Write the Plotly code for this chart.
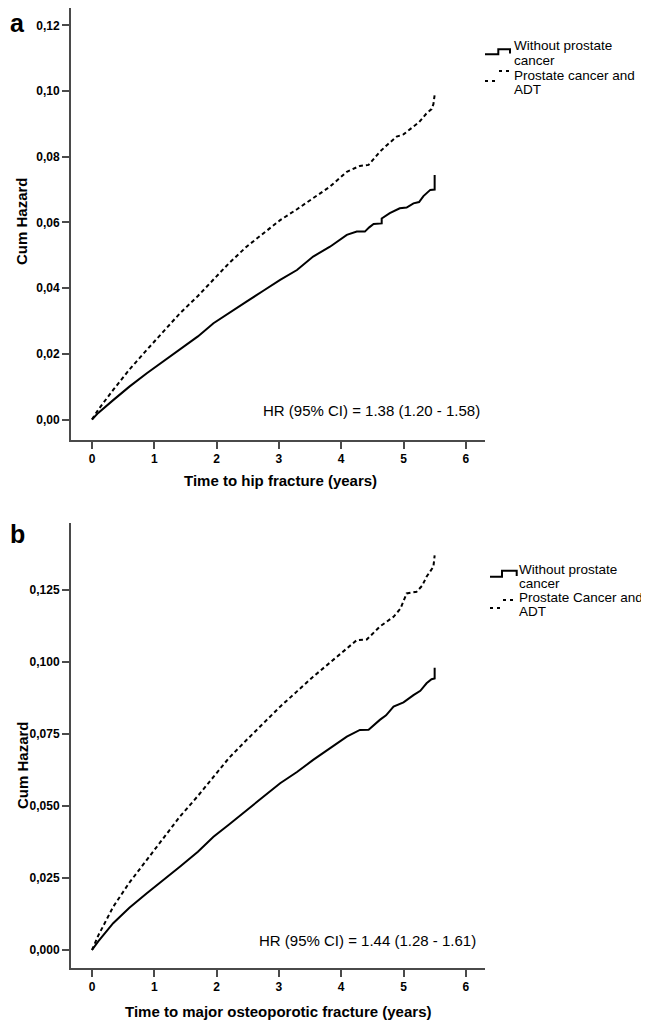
import plotly.graph_objects as go

# ---------------- data ----------------
# Panel a: time to hip fracture
a_without_t = [0, 0.1, 0.34, 0.6, 0.88, 1.15, 1.41, 1.7, 1.95, 2.2, 2.48, 2.75, 3.02, 3.29, 3.55, 3.82,
               4.09, 4.25, 4.38, 4.45, 4.52, 4.65, 4.65, 4.78, 4.94, 5.05, 5.16, 5.25, 5.32, 5.43, 5.5, 5.5]
a_without_h = [0, 0.002, 0.0059, 0.0100, 0.0141, 0.0177, 0.0212, 0.0253, 0.0293, 0.0325, 0.0359, 0.0392,
               0.0425, 0.0455, 0.0496, 0.0526, 0.0562, 0.0572, 0.0572, 0.0585, 0.0595, 0.0597, 0.0612,
               0.0628, 0.0643, 0.0645, 0.0658, 0.0662, 0.0680, 0.0699, 0.0700, 0.0744]
a_adt_t = [0, 0.1, 0.34, 0.6, 0.88, 1.15, 1.41, 1.7, 1.95, 2.2, 2.48, 2.75, 3.02, 3.29, 3.55, 3.82,
           4.09, 4.30, 4.44, 4.62, 4.75, 4.89, 5.0, 5.16, 5.25, 5.37, 5.45, 5.48, 5.5]
a_adt_h = [0, 0.003, 0.0090, 0.0152, 0.0212, 0.0270, 0.0323, 0.0376, 0.0425, 0.0476, 0.0526, 0.0567,
           0.0607, 0.0640, 0.0673, 0.0709, 0.0754, 0.0772, 0.0775, 0.0815, 0.0838, 0.0861, 0.0868,
           0.0891, 0.0905, 0.0932, 0.0945, 0.0960, 0.0988]

# Panel b: time to major osteoporotic fracture
b_without_t = [0, 0.1, 0.34, 0.6, 0.88, 1.15, 1.41, 1.7, 1.95, 2.2, 2.48, 2.75, 3.02, 3.29, 3.55, 3.82,
               4.09, 4.30, 4.44, 4.62, 4.72, 4.84, 5.0, 5.16, 5.27, 5.37, 5.45, 5.5, 5.5]
b_without_h = [0, 0.003, 0.0093, 0.0147, 0.0197, 0.0243, 0.0289, 0.0341, 0.0393, 0.0436, 0.0486, 0.0532,
               0.0579, 0.0618, 0.0660, 0.0700, 0.0741, 0.0764, 0.0765, 0.0799, 0.0815, 0.0845, 0.0860,
               0.0885, 0.0900, 0.0926, 0.0940, 0.0943, 0.0980]
b_adt_t = [0, 0.1, 0.34, 0.6, 0.88, 1.15, 1.41, 1.7, 1.95, 2.2, 2.48, 2.75, 3.02, 3.29, 3.55, 3.82,
           4.09, 4.25, 4.41, 4.62, 4.84, 4.95, 5.05, 5.21, 5.30, 5.37, 5.48, 5.5]
b_adt_h = [0, 0.005, 0.0150, 0.0234, 0.0313, 0.0390, 0.0463, 0.0535, 0.0602, 0.0667, 0.0729, 0.0788,
           0.0845, 0.0898, 0.0949, 0.0998, 0.1048, 0.1076, 0.1078, 0.1123, 0.1157, 0.1185, 0.1238,
           0.1244, 0.1265, 0.1296, 0.1331, 0.1370]

x_ticks = [0, 1, 2, 3, 4, 5, 6]
x_ticklabels = ["0", "1", "2", "3", "4", "5", "6"]
a_yticks = [0, 0.02, 0.04, 0.06, 0.08, 0.10, 0.12]
a_yticklabels = ["0,00", "0,02", "0,04", "0,06", "0,08", "0,10", "0,12"]
b_yticks = [0, 0.025, 0.05, 0.075, 0.10, 0.125]
b_yticklabels = ["0,000", "0,025", "0,050", "0,075", "0,100", "0,125"]

a_legend = [["Without prostate", "cancer"], ["Prostate cancer and", "ADT"]]
b_legend = [["Without prostate", "cancer"], ["Prostate Cancer and", "ADT"]]
a_hr = "HR (95% CI) = 1.38 (1.20 - 1.58)"
b_hr = "HR (95% CI) = 1.44 (1.28 - 1.61)"
a_xtitle = "Time to hip fracture (years)"
b_xtitle = "Time to major osteoporotic fracture (years)"
y_title = "Cum Hazard"

# ---------------- figure ----------------
PAGE_W, PAGE_H = 649, 1025
OFF = 8  # default body margin of the html page
W, H = PAGE_W - OFF, PAGE_H - OFF
FONT = "Liberation Sans, Arial, Helvetica, sans-serif"
AXC = "#4a4a4a"


def px(x):
    return (x - OFF) / W


def py(y):
    return 1 - (y - OFF) / H


fig = go.Figure()
line_solid = dict(color="black", width=2)
line_dash = dict(color="black", width=2, dash="4px,3px")

fig.add_trace(go.Scatter(x=a_without_t, y=a_without_h, mode="lines", line=line_solid,
                         xaxis="x", yaxis="y", showlegend=False))
fig.add_trace(go.Scatter(x=a_adt_t, y=a_adt_h, mode="lines", line=line_dash,
                         xaxis="x", yaxis="y", showlegend=False))
fig.add_trace(go.Scatter(x=b_without_t, y=b_without_h, mode="lines", line=line_solid,
                         xaxis="x2", yaxis="y2", showlegend=False))
fig.add_trace(go.Scatter(x=b_adt_t, y=b_adt_h, mode="lines", line=line_dash,
                         xaxis="x2", yaxis="y2", showlegend=False))

# plot area geometry (page pixels)
X_LEFT, X_RIGHT = 71, 485
X0_PX, X_PER_YEAR = 92, 62.3
xr = [(X_LEFT - X0_PX) / X_PER_YEAR, (X_RIGHT - X0_PX) / X_PER_YEAR]

A_TOP, A_BOT, A_ZERO, A_PER = 5, 440, 419.5, 3285.0
B_TOP, B_BOT, B_ZERO, B_PER = 523, 968, 950, 2880.0
A_TOP_C = max(A_TOP, OFF)  # cannot draw above the page offset

common_x = dict(showline=True, linecolor=AXC, linewidth=2, ticks="outside", ticklen=7, tickwidth=2,
                tickcolor=AXC, showgrid=False, zeroline=False, range=xr, tickmode="array",
                tickvals=x_ticks, ticktext=x_ticklabels,
                tickfont=dict(family=FONT, size=12, color="black", weight="bold"))
common_y = dict(showline=True, linecolor=AXC, linewidth=2, ticks="outside", ticklen=7, tickwidth=2,
                tickcolor=AXC, showgrid=False, zeroline=False, tickmode="array",
                tickfont=dict(family=FONT, size=12, color="black", weight="bold"))

fig.update_layout(
    width=W, height=H,
    margin=dict(l=0, r=0, t=0, b=0),
    paper_bgcolor="white", plot_bgcolor="white",
    xaxis=dict(domain=[px(X_LEFT), px(X_RIGHT)], anchor="y", **common_x),
    yaxis=dict(domain=[py(A_BOT), py(A_TOP_C)], anchor="x",
               range=[-(A_BOT - A_ZERO) / A_PER, (A_ZERO - A_TOP_C) / A_PER],
               tickvals=a_yticks, ticktext=a_yticklabels, **common_y),
    xaxis2=dict(domain=[px(X_LEFT), px(X_RIGHT)], anchor="y2", **common_x),
    yaxis2=dict(domain=[py(B_BOT), py(B_TOP)], anchor="x2",
                range=[-(B_BOT - B_ZERO) / B_PER, (B_ZERO - B_TOP) / B_PER],
                tickvals=b_yticks, ticktext=b_yticklabels, **common_y),
    showlegend=False,
)

ann = []


def add_text(text, x, y, size, bold=False, xanchor="center", angle=0, yanchor="middle"):
    ann.append(dict(text=text, x=px(x), y=py(y), xref="paper", yref="paper", showarrow=False,
                    xanchor=xanchor, yanchor=yanchor, textangle=angle, borderpad=0,
                    font=dict(family=FONT, size=size, color="black",
                              weight="bold" if bold else "normal")))


# panel letters
add_text("a", 17, 8, 25, bold=True, yanchor="top")
add_text("b", 17, 534, 25, bold=True)
# axis titles
add_text(y_title, 22, 221, 15, bold=True, angle=-90)
add_text(y_title, 22, 765, 15, bold=True, angle=-90)
add_text(a_xtitle, 280, 481, 15, bold=True)
add_text(b_xtitle, 278, 1011, 15, bold=True)
# HR annotations
add_text(a_hr, 481, 410, 15, xanchor="right")
add_text(b_hr, 477, 940, 15, xanchor="right")

# legends (text)
for ys, entry in zip([(45, 60), (75, 90)], a_legend):
    for yy, t in zip(ys, entry):
        add_text(t, 513, yy, 13.5, xanchor="left")
for ys, entry in zip([(569, 583), (597, 611)], b_legend):
    for yy, t in zip(ys, entry):
        add_text(t, 518, yy, 13.5, xanchor="left")

fig.update_layout(annotations=ann)


def path(points):
    return "M " + " L ".join(f"{px(x)},{py(y)}" for x, y in points)


shapes = []
# legend a symbols
shapes.append(dict(type="path", xref="paper", yref="paper",
                   path=path([(485, 54.3), (498.3, 54.3), (498.3, 49.3), (510, 49.3), (510, 53.5)]),
                   line=dict(color="black", width=2)))
shapes.append(dict(type="line", xref="paper", yref="paper", x0=px(485), x1=px(497), y0=py(81), y1=py(81),
                   line=dict(color="black", width=2, dash="3px,4px")))
shapes.append(dict(type="line", xref="paper", yref="paper", x0=px(499), x1=px(511), y0=py(71), y1=py(71),
                   line=dict(color="black", width=2, dash="3px,4px")))
# legend b symbols
shapes.append(dict(type="path", xref="paper", yref="paper",
                   path=path([(490, 576.7), (502, 576.7), (502, 570.7), (516.7, 570.7), (516.7, 576)]),
                   line=dict(color="black", width=2)))
shapes.append(dict(type="line", xref="paper", yref="paper", x0=px(490), x1=px(501), y0=py(608), y1=py(608),
                   line=dict(color="black", width=2, dash="3px,4px")))
shapes.append(dict(type="line", xref="paper", yref="paper", x0=px(503), x1=px(517), y0=py(600), y1=py(600),
                   line=dict(color="black", width=2, dash="3px,4px")))
fig.update_layout(shapes=shapes)

fig.write_html("out.html")
